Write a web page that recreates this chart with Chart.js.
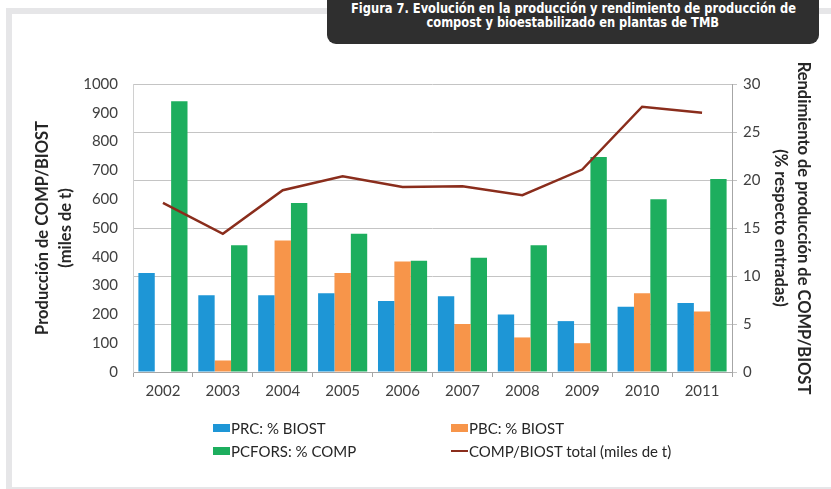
<!DOCTYPE html>
<html>
<head>
<meta charset="utf-8">
<script src="https://cdn.jsdelivr.net/npm/chart.js@4.4.1/dist/chart.umd.min.js"></script>
<style>
  html, body { margin: 0; padding: 0; background: #fff; }
  #page { position: relative; width: 831px; height: 489px; overflow: hidden; }
  #frame { position: absolute; left: 6px; top: 8px; width: 825px; height: 473px;
           border-top: 6px solid #e6e6e8; border-left: 6px solid #e6e6e8; border-bottom: 2px solid #e6e6e8; }
  #chartBox { position: absolute; left: 0; top: 0; width: 831px; height: 489px; }
  #titleBox { position: absolute; left: 327px; top: 0; width: 492px; height: 44px; background: #2f2f2f;
              border-radius: 0 0 9px 9px; color: #fff; text-align: center;
              font: bold 14px "Liberation Sans Narrow", "DejaVu Sans Condensed", sans-serif; line-height: 14px;
              box-sizing: border-box; padding-top: 1px; }
  #titleBox span { display: inline-block; transform: scaleX(0.91); transform-origin: center; white-space: nowrap; }
  #legend { position: absolute; left: 0; top: 0; width: 831px; height: 489px; pointer-events: none;
            font: 15px Lato, sans-serif; color: #262626; }
  .item { position: absolute; display: flex; align-items: center; white-space: nowrap; }
  .sw { width: 17px; height: 8px; margin-right: 1px; }
  .ln { width: 17px; height: 2px; margin-right: 1px; }
</style>
</head>
<body>
<div id="page">
  <div id="frame"></div>
  <div id="chartBox"><canvas id="myChart"></canvas></div>
  <div id="titleBox"><span>Figura 7. Evolución en la producción y rendimiento de producción de</span><br><span>compost y bioestabilizado en plantas de TMB</span></div>
  <div id="legend"></div>
</div>
<script>
/****************** data ******************/
let years = ['2002', '2003', '2004', '2005', '2006', '2007', '2008', '2009', '2010', '2011'];
let prcBiost = [10.3, 8.0, 8.0, 8.2, 7.4, 7.9, 6.0, 5.3, 6.8, 7.2];
let pbcBiost = [null, 1.2, 13.7, 10.3, 11.5, 5.0, 3.6, 3.0, 8.2, 6.3];
let pcforsComp = [28.2, 13.2, 17.6, 14.4, 11.6, 11.9, 13.2, 22.4, 18.0, 20.1];
let totalMiles = [587, 480, 631, 680, 642, 645, 614, 703, 921, 900];
let leftTicks = [0, 100, 200, 300, 400, 500, 600, 700, 800, 900, 1000];
let rightTicks = [0, 5, 10, 15, 20, 25, 30];

/****************** chart ******************/
let ctx = document.getElementById('myChart').getContext('2d');
let tickFont = { family: 'Lato', size: 15 };
let titleFont = { family: 'Lato', size: 16.5, weight: 'bold', lineHeight: 1.4 };

let myChart = new Chart(ctx, {
  type: 'bar',
  data: {
    labels: years,
    datasets: [
      { label: 'PRC: % BIOST', data: prcBiost, backgroundColor: '#1e96d6', yAxisID: 'y1', order: 1 },
      { label: 'PBC: % BIOST', data: pbcBiost, backgroundColor: '#f7954a', yAxisID: 'y1', order: 1 },
      { label: 'PCFORS: % COMP', data: pcforsComp, backgroundColor: '#1dae5e', yAxisID: 'y1', order: 1 },
      { label: 'COMP/BIOST total (miles de t)', type: 'line', data: totalMiles, borderColor: '#8a2d1c',
        backgroundColor: '#8a2d1c', borderWidth: 2.5, pointRadius: 0, tension: 0, yAxisID: 'y', order: 0 }
    ]
  },
  options: {
    responsive: true,
    maintainAspectRatio: false,
    animation: false,
    layout: { padding: { left: 31, right: 16, top: 84, bottom: 84 } },
    datasets: { bar: { categoryPercentage: 0.82, barPercentage: 1 } },
    plugins: { legend: { display: false }, tooltip: { enabled: false } },
    scales: {
      x: {
        grid: { drawOnChartArea: false, drawTicks: true, tickLength: 5, color: '#a6a6a6', offset: true },
        border: { color: '#a6a6a6' },
        ticks: { font: tickFont, color: '#404040', padding: 5 }
      },
      y: {
        position: 'left',
        min: 0, max: 1000,
        afterBuildTicks: (axis) => { axis.ticks = leftTicks.map(v => ({ value: v })); },
        afterFit: (axis) => { axis.width = 102; },
        grid: { drawOnChartArea: false, drawTicks: false },
        border: { color: '#d0d0d0' },
        ticks: { font: tickFont, color: '#404040', padding: 15, callback: (v) => String(v) },
        title: { display: true, text: ['Producción de COMP/BIOST', '(miles de t)'], font: titleFont,
                 color: '#262626', padding: { top: 0, bottom: 4 } }
      },
      y1: {
        position: 'right',
        min: 0, max: 30,
        afterBuildTicks: (axis) => { axis.ticks = rightTicks.map(v => ({ value: v })); },
        afterFit: (axis) => { axis.width = 83; },
        grid: { color: '#c4c4c4', drawTicks: true, tickLength: 5 },
        border: { color: '#a6a6a6' },
        ticks: { font: tickFont, color: '#404040', padding: 6, callback: (v) => String(v) },
        title: { display: true, text: ['Rendimiento de producción de COMP/BIOST', '(% respecto entradas)'],
                 font: titleFont, color: '#262626', padding: { top: 0, bottom: 8 } }
      }
    }
  }
});

/****************** legend ******************/
let legendPos = [[213, 428], [451, 428], [213, 451], [451, 451]];
let legendDiv = document.getElementById('legend');
myChart.data.datasets.forEach((ds, i) => {
  let item = document.createElement('div');
  item.className = 'item';
  item.style.left = legendPos[i][0] + 'px';
  item.style.top = (legendPos[i][1] - 10) + 'px';
  item.style.height = '20px';
  let sw = document.createElement('span');
  sw.className = ds.type === 'line' ? 'ln' : 'sw';
  sw.style.background = ds.type === 'line' ? ds.borderColor : ds.backgroundColor;
  let txt = document.createElement('span');
  txt.textContent = ds.label;
  item.appendChild(sw);
  item.appendChild(txt);
  legendDiv.appendChild(item);
});
</script>
</body>
</html>
